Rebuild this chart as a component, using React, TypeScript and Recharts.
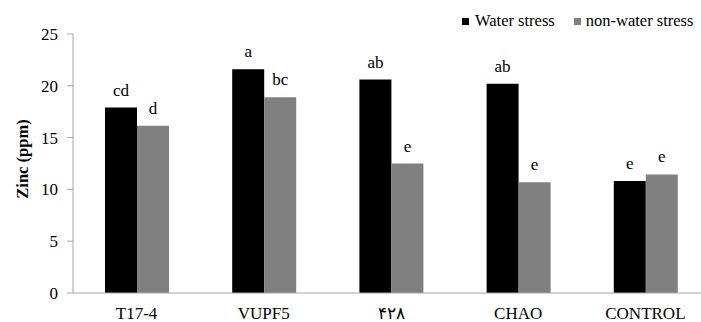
import React from "react";
import { BarChart, Bar, XAxis, YAxis, LabelList, Legend } from "recharts";

const categories = ["T17-4", "VUPF5", "۴۲۸", "CHAO", "CONTROL"];
const waterStress = [17.9, 21.6, 20.6, 20.2, 10.8];
const nonWaterStress = [16.15, 18.9, 12.5, 10.7, 11.45];
const waterStressLetters = ["cd", "a", "ab", "ab", "e"];
const nonWaterStressLetters = ["d", "bc", "e", "e", "e"];
const yTicks = [0, 5, 10, 15, 20, 25];

const data = categories.map((name, i) => ({
  name,
  ws: waterStress[i],
  nws: nonWaterStress[i],
  wsLetter: waterStressLetters[i],
  nwsLetter: nonWaterStressLetters[i],
}));

const FONT = '"Liberation Serif", "Times New Roman", serif';

const LegendContent = () => (
  <div
    style={{
      display: "flex",
      alignItems: "center",
      fontFamily: FONT,
      fontSize: 16.5,
      color: "#000",
      whiteSpace: "nowrap",
    }}
  >
    <span style={{ width: 7, height: 7, background: "#000", display: "inline-block", marginRight: 6 }} />
    <span>Water stress</span>
    <span style={{ width: 7, height: 7, background: "#808080", display: "inline-block", marginLeft: 19, marginRight: 5 }} />
    <span>non-water stress</span>
  </div>
);

const YLabel = () => (
  <text
    x={22}
    y={159}
    transform="rotate(-90 22 159)"
    textAnchor="middle"
    dominantBaseline="central"
    fontFamily={FONT}
    fontSize={16.5}
    fontWeight="bold"
    fill="#000"
  >
    Zinc (ppm)
  </text>
);

export default function App() {
  return (
    <div style={{ position: "absolute", left: 0, top: 0, width: 701, height: 322, overflow: "hidden", background: "#fff" }}>
      <BarChart
        width={720}
        height={322}
        data={data}
        margin={{ top: 34, right: 11, bottom: 0, left: 0 }}
        barGap={0}
        barSize={32}
      >
        <XAxis
          dataKey="name"
          height={29}
          tickLine={false}
          tickSize={0}
          tickMargin={14}
          axisLine={{ stroke: "#a6a6a6" }}
          tick={{ fontFamily: FONT, fontSize: 17, fill: "#000" }}
        />
        <YAxis
          width={73}
          domain={[0, 25]}
          ticks={yTicks}
          tickSize={6}
          tickMargin={9}
          axisLine={{ stroke: "#a6a6a6" }}
          tickLine={{ stroke: "#a6a6a6" }}
          tick={{ fontFamily: FONT, fontSize: 17, fill: "#000" }}
          label={<YLabel />}
        />
        <Legend
          layout="horizontal"
          verticalAlign="middle"
          align="center"
          content={<LegendContent />}
          wrapperStyle={{ top: 11, left: 462, width: 260, height: 24 }}
        />
        <Bar dataKey="ws" name="Water stress" fill="#000000" isAnimationActive={false}>
          <LabelList dataKey="wsLetter" position="top" offset={12} fontFamily={FONT} fontSize={17} fill="#000" />
        </Bar>
        <Bar dataKey="nws" name="non-water stress" fill="#808080" isAnimationActive={false}>
          <LabelList dataKey="nwsLetter" position="top" offset={12} fontFamily={FONT} fontSize={17} fill="#000" />
        </Bar>
      </BarChart>
    </div>
  );
}
